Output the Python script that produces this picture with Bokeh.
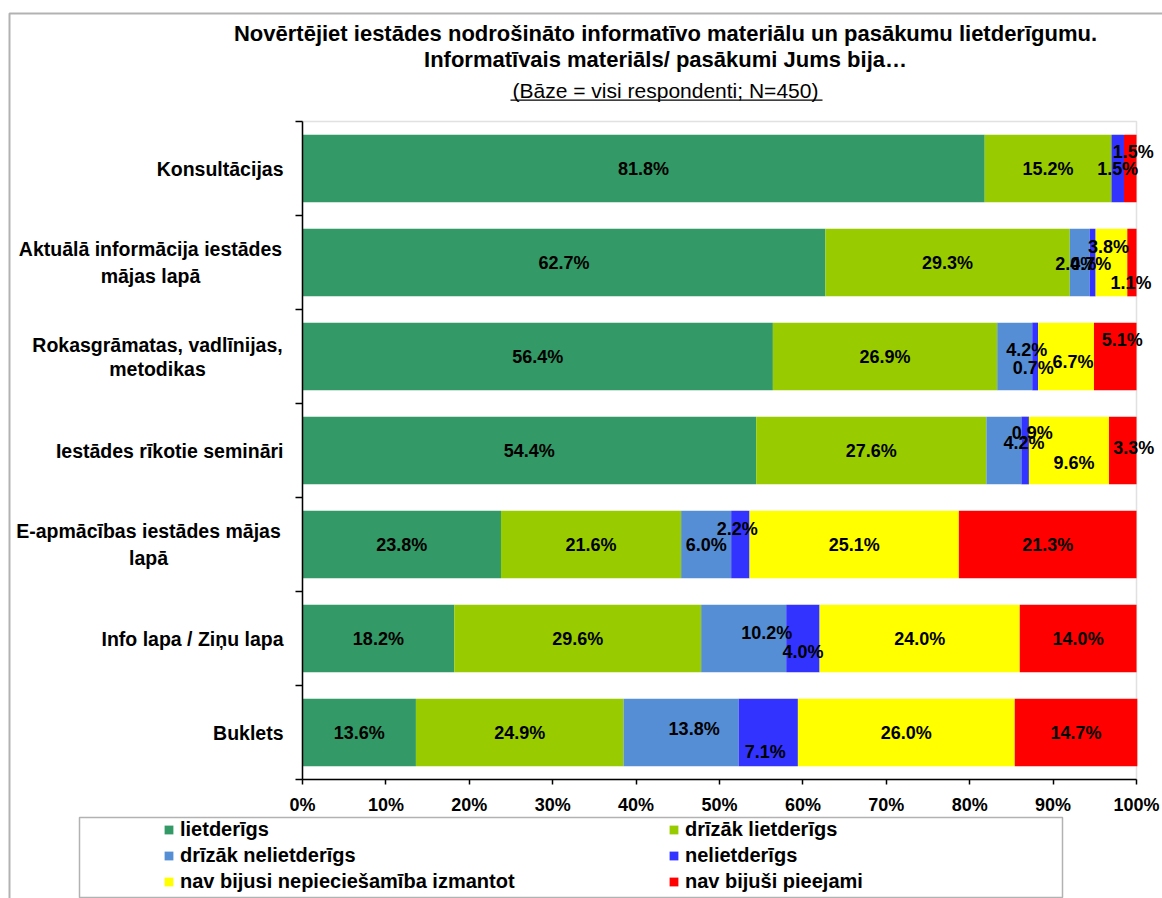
from bokeh.plotting import figure
from bokeh.models import (ColumnDataSource, Range1d, FixedTicker, PrintfTickFormatter,
                          LabelSet, Label, BoxAnnotation, Legend, LegendItem)
from bokeh.core.properties import value
from bokeh.embed import file_html
from bokeh.resources import INLINE

# ---------------- data ----------------
categories = ["Konsultācijas",
              "Aktuālā informācija iestādes\nmājas lapā",
              "Rokasgrāmatas, vadlīnijas,\nmetodikas",
              "Iestādes rīkotie semināri",
              "E-apmācības iestādes mājas\nlapā",
              "Info lapa / Ziņu lapa",
              "Buklets"]

series_names = ["lietderīgs", "drīzāk lietderīgs", "drīzāk nelietderīgs",
                "nelietderīgs", "nav bijusi nepieciešamība izmantot", "nav bijuši pieejami"]
lietderigs = [81.8, 62.7, 56.4, 54.4, 23.8, 18.2, 13.6]
drizak_lietderigs = [15.2, 29.3, 26.9, 27.6, 21.6, 29.6, 24.9]
drizak_nelietderigs = [0.0, 2.4, 4.2, 4.2, 6.0, 10.2, 13.8]
nelietderigs = [1.5, 0.7, 0.7, 0.9, 2.2, 4.0, 7.1]
nav_nepieciesamiba = [0.0, 3.8, 6.7, 9.6, 25.1, 24.0, 26.0]
nav_pieejami = [1.5, 1.1, 5.1, 3.3, 21.3, 14.0, 14.7]
x_ticks = [0, 10, 20, 30, 40, 50, 60, 70, 80, 90, 100]

title_lines = ["Novērtējiet iestādes nodrošināto informatīvo materiālu un pasākumu lietderīgumu.",
               "Informatīvais materiāls/ pasākumi Jums bija…",
               "(Bāze = visi respondenti; N=450)"]

# ---------------- style ----------------
colors = ["#339966", "#99CC00", "#558ED5", "#3333FF", "#FFFF00", "#FF0000"]
FONT = "Liberation Sans"
W, H = 1162, 898
PL, PR, PT, PB = 302, 1136, 121, 779   # plot-area edges in canvas px
n = len(categories)
XMAX = 100.0
kx = (PR - PL) / XMAX
ky = (PB - PT) / n
x_start = -PL / kx
x_end = x_start + W / kx
y_top = (n - 0.5) + PT / ky
y_bot = -0.5 - (H - PB) / ky


def sx(x):  # canvas px (from left) -> screen units
    return x


def sy(y):  # canvas px (from top) -> screen units (from bottom)
    return H - y


# label pixel nudges (dx right, dy down) keyed by (row, series)
nudges = {(0, 5): (3, -17),
          (1, 2): (-4, 1), (1, 3): (-2, 1), (1, 4): (-3, -16), (1, 5): (-1, 20),
          (2, 2): (12, -7), (2, 3): (-2, 11), (2, 4): (7, 5), (2, 5): (7, -17),
          (3, 2): (20, -8), (3, 3): (7, -18), (3, 4): (5, 12), (3, 5): (11, -3),
          (4, 3): (-3, -16),
          (5, 2): (23, -6), (5, 3): (0, 13),
          (6, 2): (13, -4), (6, 3): (-3, 19)}
# two-line category labels: centre x (canvas px) and line offsets (up, down)
two_line_center = {1: 150, 2: 157, 4: 148}
two_line_offsets = {1: (13.5, -13.5), 2: (11.5, -12.5), 4: (13.5, -13.5)}
CAT_SIZE = "19.5px"

# ---------------- figure ----------------
ypos = [n - 1 - i for i in range(n)]
keys = ["s0", "s1", "s2", "s3", "s4", "s5"]
series = [lietderigs, drizak_lietderigs, drizak_nelietderigs, nelietderigs,
          nav_nepieciesamiba, nav_pieejami]
data = {"y": ypos}
for k, s in zip(keys, series):
    data[k] = s
src = ColumnDataSource(data)

p = figure(width=W, height=H, output_backend="svg", toolbar_location=None,
           x_range=Range1d(x_start, x_end), y_range=Range1d(y_bot, y_top),
           min_border=0)
p.background_fill_color = "white"
p.border_fill_color = "white"
p.outline_line_color = None
p.xgrid.grid_line_color = None
p.ygrid.grid_line_color = None

# plot-area border (grey, top/right visible)
p.add_layout(BoxAnnotation(left=0, right=XMAX, bottom=-0.5, top=n - 0.5,
                           fill_alpha=0, line_color="#9a9a9a", line_width=1.5,
                           level="underlay"))

renderers = p.hbar_stack(keys, y="y", height=0.72, source=src,
                         fill_color=colors, line_color=None)

# x axis
xa = p.xaxis[0]
xa.fixed_location = -0.5
xa.bounds = (0, XMAX)
xa.ticker = FixedTicker(ticks=x_ticks)
xa.formatter = PrintfTickFormatter(format="%d%%")
xa.axis_line_color = "black"
xa.axis_line_width = 1.5
xa.major_tick_line_color = "black"
xa.major_tick_line_width = 1.5
xa.major_tick_in = 0
xa.major_tick_out = 5
xa.minor_tick_line_color = None
xa.major_label_standoff = 10
xa.major_label_text_font = FONT
xa.major_label_text_font_style = "bold"
xa.major_label_text_font_size = "18px"
xa.major_label_text_color = "black"

# y axis: single-line category names at row centres, boundary ticks as minor ticks
single = [i for i in range(n) if "\n" not in categories[i]]
ya = p.yaxis[0]
ya.fixed_location = 0
ya.bounds = (-0.5, n - 0.5)
ya.ticker = FixedTicker(ticks=[ypos[i] for i in single],
                        minor_ticks=[i - 0.5 for i in range(n + 1)])
ya.major_label_overrides = {ypos[i]: categories[i] for i in single}
ya.axis_line_color = "black"
ya.axis_line_width = 1.5
ya.major_tick_line_color = None
ya.major_tick_in = 0
ya.major_tick_out = 0
ya.minor_tick_line_color = "black"
ya.minor_tick_line_width = 1.5
ya.minor_tick_in = 0
ya.minor_tick_out = 7
ya.major_label_standoff = 12
ya.major_label_text_font = FONT
ya.major_label_text_font_style = "bold"
ya.major_label_text_font_size = CAT_SIZE
ya.major_label_text_color = "black"

# two-line category names, each line centred like the original
for i in range(n):
    if i in single:
        continue
    lines = categories[i].split("\n")
    for line, off in zip(lines, two_line_offsets[i]):
        p.add_layout(Label(x=sx(two_line_center[i]), y=ypos[i], x_units="screen",
                           y_units="data", y_offset=off, text=line,
                           text_align="center", text_baseline="middle",
                           text_font=FONT, text_font_style="bold",
                           text_font_size=CAT_SIZE, text_color="black"))

# bar value labels
lx, ly, lt, lxo, lyo = [], [], [], [], []
for i in range(n):
    left = 0.0
    for j, s in enumerate(series):
        v = s[i]
        if v > 0:
            dx, dy = nudges.get((i, j), (0, 0))
            lx.append(left + v / 2)
            ly.append(ypos[i])
            lt.append(f"{v:.1f}%")
            lxo.append(dx)
            lyo.append(-dy)
        left += v
lsrc = ColumnDataSource(dict(x=lx, y=ly, t=lt, xo=lxo, yo=lyo))
p.add_layout(LabelSet(x="x", y="y", text="t", source=lsrc, x_offset="xo", y_offset="yo",
                      text_align="center", text_baseline="middle",
                      text_font=value(FONT), text_font_style="bold", text_font_size="18px",
                      text_color="black"))

# title
title_y = [33, 59, 90]
title_size = ["22px", "22px", "21px"]
for k, t in enumerate(title_lines):
    p.add_layout(Label(x=sx(665), y=sy(title_y[k]), x_units="screen", y_units="screen",
                       text=t, text_align="center", text_baseline="middle",
                       text_font=FONT, text_font_style="bold" if k < 2 else "normal",
                       text_font_size=title_size[k], text_color="black"))
p.add_layout(BoxAnnotation(left=sx(510), right=sx(822), top=sy(99), bottom=sy(100.3),
                           left_units="screen", right_units="screen",
                           top_units="screen", bottom_units="screen",
                           fill_color="black", fill_alpha=1, line_color=None))

# outer chart border
p.add_layout(BoxAnnotation(left=sx(9), right=sx(1400), top=sy(13), bottom=sy(1400),
                           left_units="screen", right_units="screen",
                           top_units="screen", bottom_units="screen",
                           fill_alpha=0, line_color="black", line_width=2, level="underlay"))

# legend box
p.add_layout(BoxAnnotation(left=sx(79), right=sx(1062), top=sy(817), bottom=sy(897),
                           left_units="screen", right_units="screen",
                           top_units="screen", bottom_units="screen",
                           fill_alpha=0, line_color="black", line_width=1.5))


def make_legend(idx, x_left):
    items = [LegendItem(label=series_names[j], renderers=[renderers[j]]) for j in idx]
    return Legend(items=items, location=(sx(x_left), sy(893)), orientation="vertical",
                  glyph_width=11, glyph_height=11, label_standoff=6, spacing=3,
                  label_height=20, padding=0, margin=0, border_line_color=None,
                  background_fill_alpha=0, label_text_font=FONT,
                  label_text_font_style="bold", label_text_font_size="20px",
                  label_text_color="black")


p.add_layout(make_legend([0, 2, 4], 163))
p.add_layout(make_legend([1, 3, 5], 668))

open("out.html", "w").write(file_html(p, INLINE))
